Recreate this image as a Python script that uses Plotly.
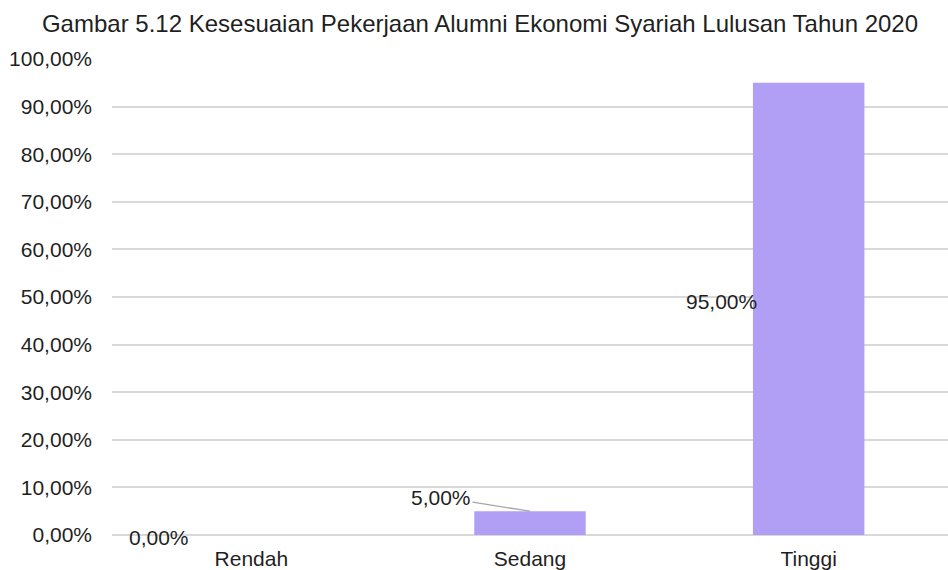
import plotly.graph_objects as go

# Kesesuaian pekerjaan alumni (persen)
categories = ["Rendah", "Sedang", "Tinggi"]
values = [0.0, 5.0, 95.0]
y_ticks = [0, 10, 20, 30, 40, 50, 60, 70, 80, 90, 100]
title_text = "Gambar 5.12 Kesesuaian Pekerjaan Alumni Ekonomi Syariah Lulusan Tahun 2020"


def pct(v):
    return f"{v:.2f}".replace(".", ",") + "%"


FONT = "Liberation Sans, Arial, sans-serif"
TEXT = "#1F1F1F"
BAR = "#B09FF5"
SIZE = 21

fig = go.Figure(
    go.Bar(
        x=categories,
        y=values,
        marker=dict(color=BAR, line=dict(width=0)),
        width=0.4,
        hoverinfo="skip",
    )
)

# value labels
label_style = dict(font=dict(family=FONT, size=SIZE, color=TEXT))
fig.add_annotation(
    x=categories[0], y=values[0], text=pct(values[0]), showarrow=False,
    xanchor="center", yanchor="middle", xshift=-92, yshift=-2, **label_style
)
fig.add_annotation(
    x=categories[1], y=values[1], text=pct(values[1]), showarrow=True,
    arrowhead=0, arrowwidth=1.3, arrowcolor="#A6A6A6", standoff=0,
    ax=-89, ay=-14, xanchor="center", yanchor="middle", **label_style
)
fig.add_annotation(
    x=categories[2], y=values[2] / 2, text=pct(values[2]), showarrow=False,
    xanchor="right", yanchor="middle", xshift=-50, yshift=7, **label_style
)

fig.update_layout(
    width=948,
    height=570,
    margin=dict(l=112, r=0, t=59, b=35),
    paper_bgcolor="white",
    plot_bgcolor="white",
    showlegend=False,
    title=dict(
        text=title_text,
        font=dict(family=FONT, size=24, color=TEXT),
        x=480 / 948, xref="container", xanchor="center",
        y=1 - 24 / 570, yref="container", yanchor="middle",
    ),
    font=dict(family=FONT, size=SIZE, color=TEXT),
)
fig.update_xaxes(
    showgrid=False, showline=False, zeroline=False, ticks="",
    tickfont=dict(family=FONT, size=SIZE, color=TEXT),
    ticklabelstandoff=9,
)
fig.update_yaxes(
    range=[0, 100],
    tickvals=y_ticks,
    ticktext=[pct(v) for v in y_ticks],
    showgrid=True, gridcolor="#D9D9D9", gridwidth=2,
    zeroline=True, zerolinecolor="#D9D9D9", zerolinewidth=2,
    showline=False, ticks="",
    tickfont=dict(family=FONT, size=SIZE, color=TEXT),
    ticklabelstandoff=19,
)

fig.write_html("out.html")
